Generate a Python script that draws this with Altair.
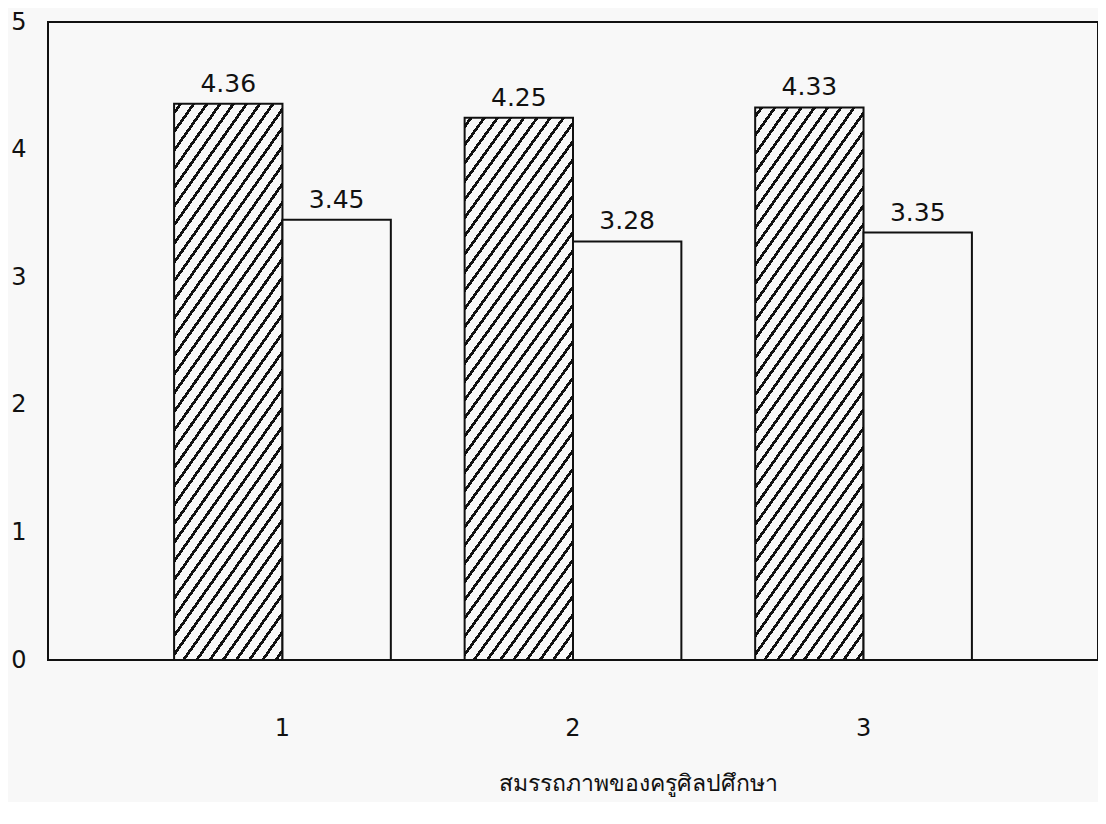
import altair as alt
import pandas as pd

# ---- data ----
groups = ["1", "2", "3"]
series_names = ["ชุดที่ 1", "ชุดที่ 2"]
values_hatched = [4.36, 4.25, 4.33]
values_plain = [3.45, 3.28, 3.35]
y_ticks = [0, 1, 2, 3, 4, 5]
x_title = "สมรรถภาพของครูศิลปศึกษา"

rows = []
for g, a, b in zip(groups, values_hatched, values_plain):
    rows.append({"group": g, "series": series_names[0], "value": a})
    rows.append({"group": g, "series": series_names[1], "value": b})
df = pd.DataFrame(rows)

BG = "#f8f8f8"
INK = "#111111"

# hatch fill built as a hard-stop linear gradient (diagonal stripes)
N = 38
f = 0.26
stops = [alt.GradientStop(offset=0, color=BG)]
for i in range(N):
    c = (i + 0.5) / N
    a = c - f / (2 * N)
    b = c + f / (2 * N)
    stops += [
        alt.GradientStop(offset=a, color=BG),
        alt.GradientStop(offset=a, color=INK),
        alt.GradientStop(offset=b, color=INK),
        alt.GradientStop(offset=b, color=BG),
    ]
stops.append(alt.GradientStop(offset=1, color=BG))
hatch = alt.LinearGradient(gradient="linear", stops=stops, x1=0, y1=0, x2=0.3266, y2=1.1855)

FONT = "DejaVu Sans"

base = alt.Chart(df).encode(
    x=alt.X(
        "group:N",
        sort=groups,
        scale=alt.Scale(paddingInner=0.254, paddingOuter=0.434),
        axis=alt.Axis(
            title=x_title,
            labelAngle=0,
            ticks=False,
            domain=False,
            labelPadding=56,
            labelFontSize=24,
            labelFont=FONT,
            labelColor=INK,
            titleFontSize=23,
            titleFontWeight="normal",
            titleColor=INK,
            titleX=590,
            titleY=112,
        ),
    ),
    xOffset=alt.XOffset("series:N", sort=series_names, scale=alt.Scale(paddingInner=0, paddingOuter=0)),
    y=alt.Y(
        "value:Q",
        scale=alt.Scale(domain=[0, 5], nice=False),
        axis=alt.Axis(
            values=y_ticks,
            grid=False,
            ticks=False,
            domain=False,
            labelPadding=22,
            labelFontSize=24,
            labelFont=FONT,
            labelColor=INK,
            title=None,
        ),
    ),
)

bars = base.mark_bar(stroke=INK, strokeWidth=2).encode(
    fill=alt.condition(f"datum.series == '{series_names[0]}'", alt.value(hatch), alt.value(BG))
)

labels = base.mark_text(baseline="bottom", dy=-7, fontSize=25, font=FONT, color=INK).encode(
    text=alt.Text("value:Q", format=".2f")
)

chart = (
    alt.layer(bars, labels)
    .properties(
        width=1050,
        height=638,
        autosize=alt.AutoSizeParams(type="none"),
        padding={"left": 40, "top": 14, "right": 0, "bottom": 142},
        background=BG,
    )
    .configure_view(stroke=INK, strokeWidth=2)
)

chart.save("out.html", embed_options={"renderer": "svg", "actions": False})
